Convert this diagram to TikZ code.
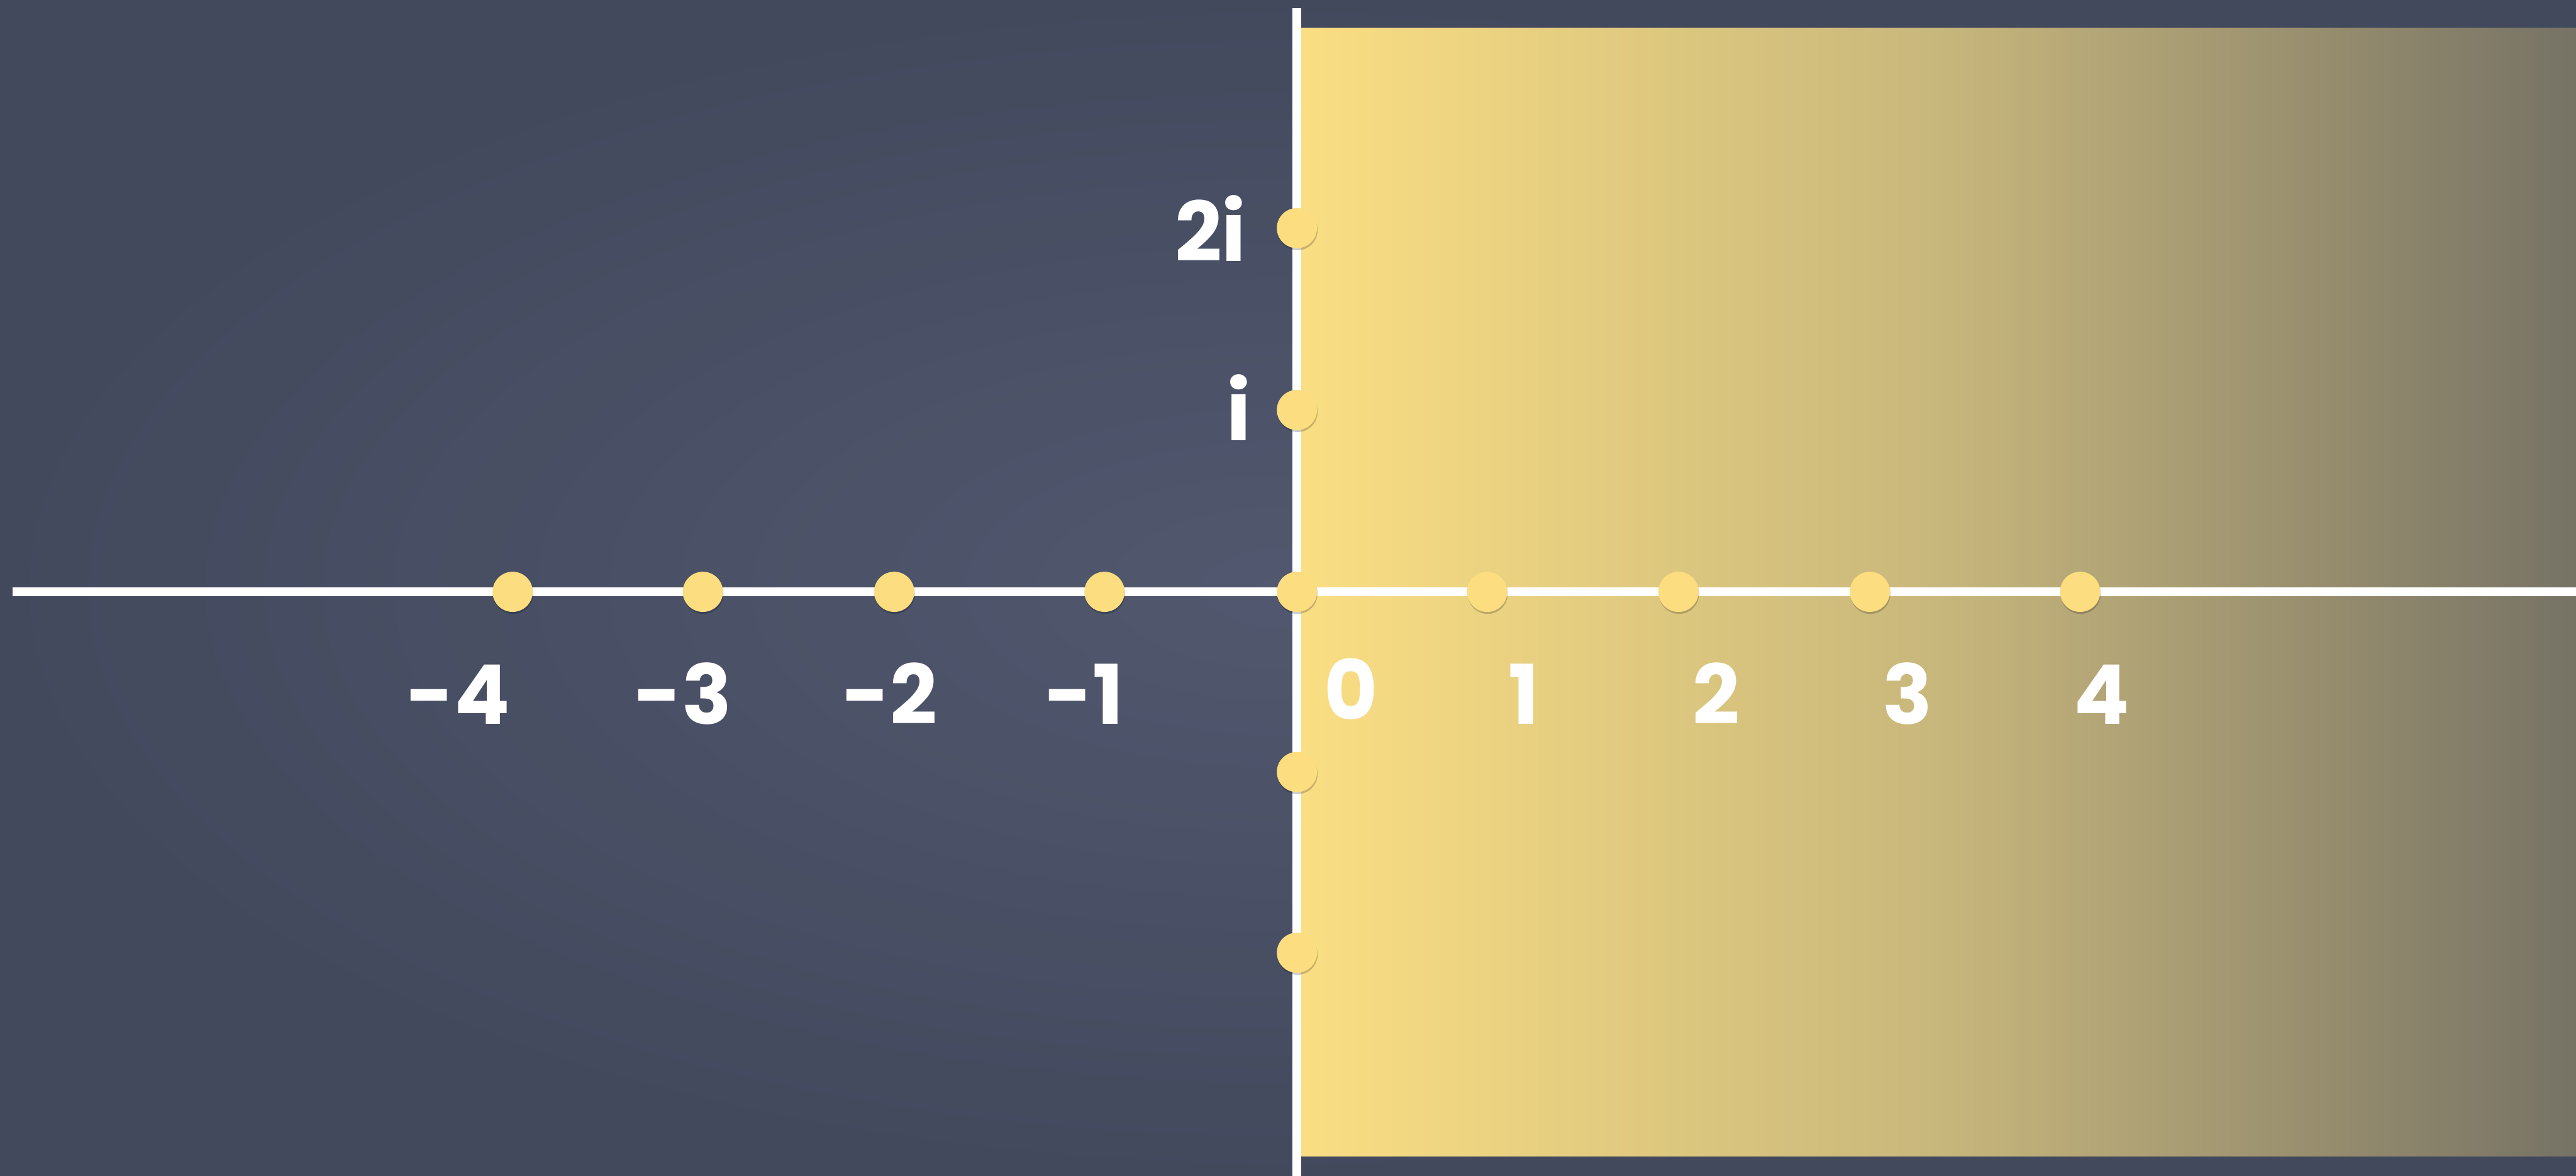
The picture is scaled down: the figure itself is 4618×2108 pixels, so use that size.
\documentclass[tikz,border=0pt]{standalone}
\usepackage{fontspec}
\newfontfamily\chalk{Poppins}
\usetikzlibrary{shadows}
\definecolor{board}{RGB}{72,79,99}
\definecolor{boardin}{RGB}{84,91,114}
\definecolor{boardout}{RGB}{66,72,92}
\definecolor{dotyellow}{RGB}{252,221,127}
\definecolor{padleft}{RGB}{250,222,131}
\definecolor{padmid}{RGB}{200,183,124}
\definecolor{padright}{RGB}{118,114,101}
\begin{document}
\begin{tikzpicture}[x=0.01cm,y=-0.01cm,
  chalkline/.style={draw=white,line width=4.6pt},
  dot/.style={circle,fill=dotyellow,draw=none,minimum size=0.72cm,inner sep=0pt,
    drop shadow={shadow xshift=0.01cm,shadow yshift=-0.035cm,opacity=0.2,fill=black}},
  lbl/.style={font=\chalk\bfseries\fontsize{42}{50}\selectfont,text=white,inner sep=0pt,anchor=base}]
\useasboundingbox (0,0) rectangle (4618,2108);
% chalkboard
\fill[board] (0,0) rectangle (4618,2108);
\shade[inner color=boardin,outer color=boardout,opacity=0.8] (0,0) rectangle (4618,2108);
% yellow half-plane
\shade[left color=padleft,right color=padright,middle color=padmid] (2333,50) rectangle (4618,2073);
% axes
\coordinate (hl) at (22,1061);
\coordinate (hr) at (4618,1061);
\coordinate (vt) at (2325,15);
\coordinate (vb) at (2325,2108);
\draw[chalkline] (hl) -- (hr);
\draw[chalkline] (vt) -- (vb);
% dots on real axis
\node[dot] (m4) at (919,1061) {};
\node[dot] (m3) at (1260,1061) {};
\node[dot] (m2) at (1603,1061) {};
\node[dot] (m1) at (1980,1061) {};
\node[dot] (z0) at (2325,1061) {};
\node[dot] (p1) at (2666,1061) {};
\node[dot] (p2) at (3009,1061) {};
\node[dot] (p3) at (3352,1061) {};
\node[dot] (p4) at (3729,1061) {};
% dots on imaginary axis
\node[dot] (i2) at (2325,409) {};
\node[dot] (i1) at (2325,735) {};
\node[dot] (mi1) at (2325,1384) {};
\node[dot] (mi2) at (2325,1708) {};
% labels
\node[lbl] (lm4) at (822,1298) {-4};
\node[lbl] (lm3) at (1225,1298) {-3};
\node[lbl] (lm2) at (1595,1298) {-2};
\node[lbl] (lm1) at (1944,1298) {-1};
\node[lbl] (l0) at (2422,1290) {0};
\node[lbl] (l1) at (2732,1298) {1};
\node[lbl] (l2) at (3077,1298) {2};
\node[lbl] (l3) at (3420,1298) {3};
\node[lbl] (l4) at (3768,1298) {4};
\node[lbl] (li2) at (2170,468) {2i};
\node[lbl] (li1) at (2221,790) {i};
\end{tikzpicture}
\end{document}
